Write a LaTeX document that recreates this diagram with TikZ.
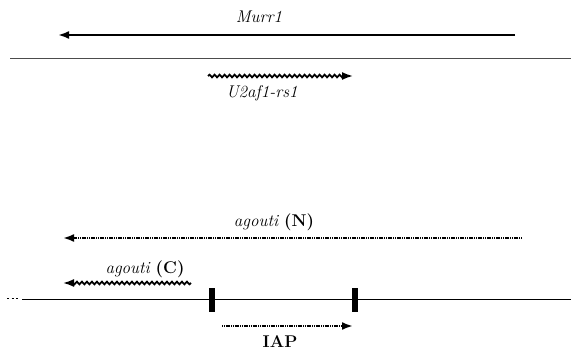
\documentclass[tikz,border=0pt]{standalone}
\usetikzlibrary{decorations.pathmorphing,arrows.meta}
\begin{document}
\begin{tikzpicture}[x=1pt,y=-1pt,
  lbl/.style={inner sep=0pt,font=\fontsize{17}{19}\selectfont},
  gene/.style={line width=2.2pt,-{Latex[length=11pt,width=8pt]}},
  wavygene/.style={line width=1.8pt,decorate,decoration={snake,amplitude=1.3pt,segment length=5pt,post length=9pt},-{Latex[length=11pt,width=8pt]}},
  dotgene/.style={line width=2.4pt,dash pattern=on 1.2pt off 0.6pt,-{Latex[length=11pt,width=8pt,sep=0pt]}},
  genome/.style={line width=0.8pt},
  ltr/.style={fill=black,minimum width=6pt,minimum height=24pt,inner sep=0pt}]
\useasboundingbox (0,0) rectangle (571,350);
% top locus
\coordinate (m1) at (515,35);
\coordinate (m2) at (58,35);
\draw[gene] (m1) -- (m2);
\node[lbl] (murr) at (259,17) {\itshape Murr1};
\coordinate (g1a) at (10,58);
\coordinate (g1b) at (571,58);
\draw[genome,gray!60!black] (g1a) -- (g1b);
\coordinate (u1) at (208,76);
\coordinate (u2) at (353,76);
\draw[wavygene] (u1) -- (u2);
\node[lbl] (u2af) at (262,93) {\itshape U2af1-rs1};
% bottom locus
\coordinate (n1) at (522,238);
\coordinate (n2) at (63,238);
\draw[dotgene] (n1) -- (n2);
\node[lbl] (agN) at (274,222) {\textit{agouti} \textbf{(N)}};
\coordinate (c1) at (191,283);
\coordinate (c2) at (63,283);
\draw[wavygene] (c1) -- (c2);
\node[lbl] (agC) at (145,269) {\textit{agouti} \textbf{(C)}};
\coordinate (g2a) at (22,299);
\coordinate (g2b) at (571,299);
\draw[genome] (g2a) -- (g2b);
\coordinate (d1) at (7,298);
\coordinate (d2) at (18,298);
\draw[line width=0.6pt,dash pattern=on 2pt off 2.5pt] (d1) -- (d2);
\node[ltr] (ltrL) at (212,300) {};
\node[ltr] (ltrR) at (355,300) {};
\coordinate (i1) at (222,326);
\coordinate (i2) at (353,326);
\draw[dotgene] (i1) -- (i2);
\node[lbl] (iap) at (280,342) {\bfseries IAP};
\end{tikzpicture}
\end{document}
